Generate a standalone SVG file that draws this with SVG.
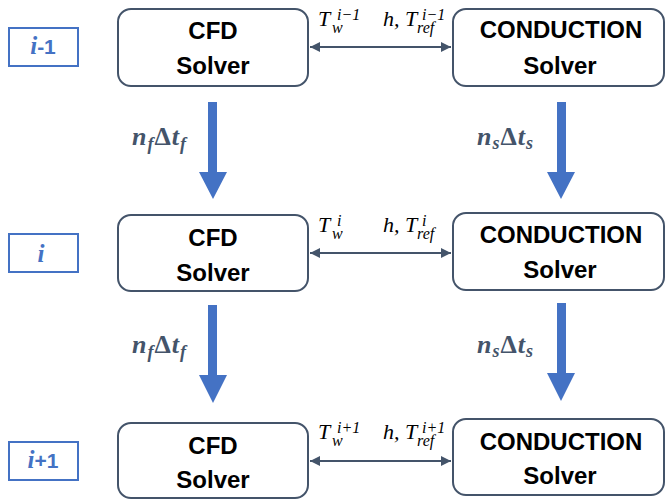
<svg xmlns="http://www.w3.org/2000/svg" width="667" height="499" viewBox="0 0 667 499">
<style>
.node{fill:#fff;stroke:#44546a;stroke-width:2}
.lab{fill:#fff;stroke:#4472c4;stroke-width:2}
.t{font-family:"Liberation Sans",Arial,sans-serif;font-weight:bold;font-size:24px;fill:#000;text-anchor:middle}
.lt{font-family:"Liberation Sans",Arial,sans-serif;font-weight:bold;font-size:21px;fill:#4472c4;text-anchor:middle}
.li{font-family:"Liberation Serif","Times New Roman",serif;font-style:italic;font-weight:bold;font-size:25px}
.m{font-family:"Liberation Serif","Times New Roman",serif;font-style:italic;font-size:22px;fill:#000}
.s{font-size:16px}
.ml{font-family:"Liberation Serif","Times New Roman",serif;font-style:italic;font-weight:bold;font-size:26px;fill:#44546a;letter-spacing:1px}
.ms{font-size:18px}
.h{stroke:#44546a;stroke-width:2;fill:none}
.v{fill:#4472c4}
</style>
<defs>
<marker id="ah" viewBox="0 0 10 10" refX="10" refY="5" markerWidth="10" markerHeight="10" markerUnits="userSpaceOnUse" orient="auto-start-reverse">
<path d="M0,0 L10,5 L0,10 z" fill="#44546a"/>
</marker>
</defs>
<g id="label-im1"><rect class="lab" x="9" y="28" width="69" height="38"/><text class="lt" x="43" y="54"><tspan class="li">i</tspan>-1</text></g>
<g id="label-i"><rect class="lab" x="9" y="234" width="69" height="38"/><text class="lt" x="41" y="262"><tspan class="li" font-weight="normal">i</tspan></text></g>
<g id="label-ip1"><rect class="lab" x="9" y="442" width="69" height="38"/><text class="lt" x="43" y="468"><tspan class="li">i</tspan>+1</text></g>
<g id="cfd1"><rect class="node" x="118" y="9" width="190" height="77" rx="13"/><text class="t" x="213" y="39">CFD</text><text class="t" x="213" y="74">Solver</text></g>
<g id="cond1"><rect class="node" x="453" y="9" width="211" height="77" rx="13"/><text class="t" x="561" y="38">CONDUCTION</text><text class="t" x="560" y="74">Solver</text></g>
<g id="cfd2"><rect class="node" x="118" y="215" width="190" height="76" rx="13"/><text class="t" x="213" y="246">CFD</text><text class="t" x="213" y="281">Solver</text></g>
<g id="cond2"><rect class="node" x="453" y="213" width="211" height="77" rx="13"/><text class="t" x="561" y="243">CONDUCTION</text><text class="t" x="560" y="278">Solver</text></g>
<g id="cfd3"><rect class="node" x="118" y="423" width="190" height="75" rx="13"/><text class="t" x="213" y="454">CFD</text><text class="t" x="213" y="488">Solver</text></g>
<g id="cond3"><rect class="node" x="453" y="419" width="211" height="76" rx="13"/><text class="t" x="561" y="450">CONDUCTION</text><text class="t" x="560" y="484">Solver</text></g>
<g id="connectors">
<line class="h" x1="310" y1="47" x2="451" y2="47" marker-start="url(#ah)" marker-end="url(#ah)"/>
<line class="h" x1="310" y1="253" x2="451" y2="253" marker-start="url(#ah)" marker-end="url(#ah)"/>
<line class="h" x1="310" y1="461" x2="451" y2="461" marker-start="url(#ah)" marker-end="url(#ah)"/>
<path class="v" d="M208,102 H217 V172 H227 L213,199 L199,172 H208 Z"/>
<path class="v" d="M557,102 H566 V172 H575 L561,199 L547,172 H557 Z"/>
<path class="v" d="M208,305 H217 V375 H227 L213,403 L199,375 H208 Z"/>
<path class="v" d="M557,303 H566 V373 H575 L561,401 L547,373 H557 Z"/>
<text class="m" x="318" y="26">T<tspan class="s" x="332" y="33">w</tspan><tspan class="s" x="337" y="20">i−1</tspan></text>
<text class="m" x="383" y="26">h, T<tspan class="s" x="417" y="33">ref</tspan><tspan class="s" x="422" y="20">i−1</tspan></text>
<text class="m" x="318" y="232">T<tspan class="s" x="332" y="239">w</tspan><tspan class="s" x="337" y="226">i</tspan></text>
<text class="m" x="383" y="232">h, T<tspan class="s" x="417" y="239">ref</tspan><tspan class="s" x="422" y="226">i</tspan></text>
<text class="m" x="318" y="439">T<tspan class="s" x="332" y="446">w</tspan><tspan class="s" x="337" y="433">i+1</tspan></text>
<text class="m" x="383" y="439">h, T<tspan class="s" x="417" y="446">ref</tspan><tspan class="s" x="422" y="433">i+1</tspan></text>
<text class="ml" x="132" y="145">n<tspan class="ms" dy="5">f</tspan><tspan dy="-5" font-style="normal">Δ</tspan>t<tspan class="ms" dy="5">f</tspan></text>
<text class="ml" x="132" y="353">n<tspan class="ms" dy="5">f</tspan><tspan dy="-5" font-style="normal">Δ</tspan>t<tspan class="ms" dy="5">f</tspan></text>
<text class="ml" x="477" y="145">n<tspan class="ms" dy="4">s</tspan><tspan dy="-4" font-style="normal">Δ</tspan>t<tspan class="ms" dy="4">s</tspan></text>
<text class="ml" x="477" y="353">n<tspan class="ms" dy="4">s</tspan><tspan dy="-4" font-style="normal">Δ</tspan>t<tspan class="ms" dy="4">s</tspan></text>
</g>
</svg>
